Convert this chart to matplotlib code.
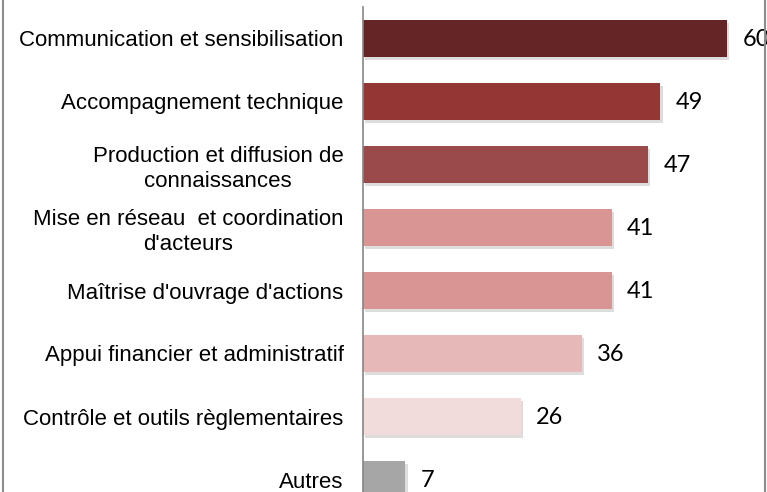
import matplotlib.pyplot as plt
import matplotlib.patheffects as pe
from matplotlib.lines import Line2D

categories = [
    "Communication et sensibilisation",
    "Accompagnement technique",
    "Production et diffusion de\nconnaissances",
    "Mise en réseau  et coordination\nd'acteurs",
    "Maîtrise d'ouvrage d'actions",
    "Appui financier et administratif",
    "Contrôle et outils règlementaires",
    "Autres",
]
values = [60, 49, 47, 41, 41, 36, 26, 7]
colors = ["#652426", "#943634", "#9b4a4b", "#d99594", "#d99594",
          "#e6b8b7", "#f2dcdb", "#a6a6a6"]

W, H = 767, 492
fig = plt.figure(figsize=(W / 100, H / 100), dpi=100)

# axes placed in pixel terms: axis line at x=363, top at y=7, 63 px per row
left, top, right = 363, 7, 764
row = 63
ax = fig.add_axes([left / W, (H - top - row * len(values)) / H,
                   (right - left) / W, row * len(values) / H])

pos = list(range(len(values)))
bars = ax.barh(pos, values, height=0.59, color=colors, zorder=2)
for b in bars:
    b.set_path_effects([pe.SimplePatchShadow(offset=(1.5, -2), alpha=0.2, shadow_rgbFace="#555555"),
                        pe.Normal()])

ax.set_ylim(len(values) - 0.5, -0.5)
ax.set_xlim(0, (right - left) / 6.07)

for p, v in zip(pos, values):
    ax.annotate(str(v), (v, p), xytext=(11, -1), textcoords="offset points",
                ha="left", va="center", fontsize=17, family="Lato", color="black")

ax.set_yticks(pos)
ax.set_yticklabels(categories, fontsize=16, family="Liberation Sans",
                   multialignment="center", linespacing=1.25)
ax.tick_params(axis="y", length=0, pad=14)
ax.set_xticks([])

for s in ["top", "right", "bottom"]:
    ax.spines[s].set_visible(False)
ax.spines["left"].set_color("#868686")
ax.spines["left"].set_linewidth(1.2)

# outer frame lines at both sides of the picture
fig.add_artist(Line2D([2.5 / W, 2.5 / W], [0, 1], color="#8c8c8c", lw=1.5))
fig.add_artist(Line2D([764.5 / W, 764.5 / W], [0, 1], color="#8c8c8c", lw=1.5))

fig.savefig("out.png", dpi=100)
